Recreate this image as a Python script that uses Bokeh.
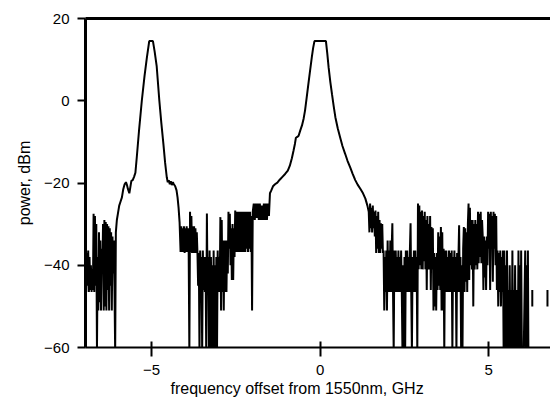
import numpy as np
from bokeh.plotting import figure
from bokeh.models import Range1d, LinearAxis, FixedTicker, Title, ColumnDataSource
from bokeh.embed import file_html
from bokeh.resources import INLINE

NAN = float("nan")

# ---- data: frequency offset (GHz) / power (dBm) ----
noise_left_f = [-7.00, -6.98, -6.96, -6.94, -6.92, -6.90, -6.88, -6.86, -6.84, -6.82,
                -6.80, -6.78, -6.76, -6.74, -6.72, -6.70, -6.68, -6.66, -6.64, -6.62,
                -6.60, -6.58, -6.56, -6.54, -6.52, -6.50, -6.48, -6.46, -6.44, -6.42,
                -6.40, -6.38, -6.36, -6.34, -6.32, -6.30, -6.28, -6.26, -6.24, -6.22,
                -6.20, -6.18, -6.16, -6.14, -6.12, -6.10, -6.08, -6.06]
noise_left_p = [-40, -46.5, -38, -46.5, -37, -45, -36.4, -46.5, -38, -46,
                -40, -46.5, -41, -46, -27.5, -46.5, -28, -45, -30, -61,
                -38, -51, -32, -49, -34, -51, -36, -42, -30, -51,
                -29, -50, -29.5, -51, -30, -46, -30.5, -51, -31, -45,
                -32, -51, -33, -42, -34, -46, -61, -32]

peak_a_f = [-6.03, -6.00, -5.96, -5.92, -5.88, -5.84, -5.80, -5.76, -5.73, -5.70,
            -5.66, -5.63, -5.60, -5.56, -5.52, -5.48, -5.44, -5.37, -5.29, -5.21,
            -5.14, -5.07, -4.96, -4.91, -4.85, -4.77, -4.71, -4.65, -4.60, -4.55,
            -4.52, -4.49, -4.46, -4.43, -4.40, -4.37, -4.34, -4.30, -4.26, -4.23,
            -4.20, -4.17]
peak_a_p = [-29, -27.5, -25.5, -24.5, -23.5, -21.5, -20.3, -19.8, -20.5, -21.5,
            -22.5, -21, -19.5, -19.3, -18.5, -17.5, -13.8, -7, 0, 6,
            10.5, 14.5, 14.5, 12, 8.5, 0, -5.5, -10.5, -15, -18.6,
            -19.8, -19.3, -20.3, -19.6, -20.5, -19.8, -20.3, -20.8, -21.8, -23.5,
            -26, -29.5]

noise_mid_f = [-4.14, -4.12, -4.10, -4.08, -4.06, -4.04, -4.02, -4.00, -3.98, -3.96,
               -3.94, -3.92, -3.90, -3.88, -3.86, -3.84, -3.82, -3.80, -3.78, -3.76,
               -3.74, -3.72, -3.70, -3.68, -3.66, -3.64, -3.62, -3.60, -3.58, -3.56,
               -3.54, -3.52, -3.50, -3.48, -3.46, -3.44, -3.42, -3.40, -3.38, -3.36,
               -3.34, -3.32, -3.30, -3.28, -3.26, -3.24, -3.22, -3.20, -3.18, -3.16,
               -3.14, -3.12, -3.10, -3.08, -3.06, -3.04, -3.02, -3.00, -2.98, -2.96,
               -2.94, -2.92, -2.90, -2.88, -2.86, -2.84, -2.82, -2.80, -2.78, -2.76,
               -2.74, -2.72, -2.70, -2.68, -2.66, -2.64, -2.62, -2.60, -2.58, -2.56,
               -2.54, -2.52, -2.50, -2.48, -2.46, -2.44, -2.42, -2.40, -2.38, -2.36,
               -2.34, -2.32, -2.30, -2.28, -2.26, -2.24, -2.22, -2.20, -2.18, -2.16,
               -2.14, -2.12, -2.10, -2.08, -2.06, -2.04, -2.02, -2.00, -1.97, -1.94,
               -1.91, -1.88, -1.85, -1.82, -1.79, -1.76, -1.73, -1.70, -1.67, -1.64,
               -1.61, -1.58, -1.55, -1.52]
noise_mid_p = [-36.8, -30.5, -36.8, -31, -36.8, -30.5, -37, -31, -36.8, -30.5,
               -36.8, -31, -37, -61, -27, -36.8, -28, -37, -30.5, -37,
               -30.5, -37, -31, -37, -32, -37, -45, -37, -61, -36.4,
               -46, -38, -61, -36.4, -46, -38, -46.5, -38, -61, -27.4,
               -46, -38, -61, -36.4, -61, -38, -61, -40, -61, -36.4,
               -61, -40, -61, -38, -61, -36.4, -46.5, -38, -46.5, -28.3,
               -51, -29, -46.5, -34, -51, -34, -46.5, -34, -46.5, -34,
               -42, -27, -36, -27.5, -40, -31, -43.6, -30, -43.6, -31,
               -38, -26.7, -36.8, -27, -36.8, -27, -36.8, -27, -36.8, -27,
               -36.8, -27, -36.8, -27, -36.8, -27, -36.8, -27, -36, -27,
               -36.8, -27, -36, -27, -36.8, -28, -51, -27, -25, -29,
               -25, -28.5, -25, -29, -25, -29, -25.5, -29, -25, -29,
               -25, -29, -25, -28]

peak_b_f = [-1.49, -1.45, -1.40, -1.34, -1.27, -1.20, -1.12, -1.04, -0.96, -0.90,
            -0.84, -0.79, -0.75, -0.72, -0.68, -0.64, -0.59, -0.54, -0.49, -0.45,
            -0.40, -0.35, -0.30, -0.25, -0.21, -0.17, 0.17, 0.21, 0.25, 0.30,
            0.35, 0.40, 0.45, 0.52, 0.59, 0.66, 0.74, 0.81, 0.89, 0.96,
            1.04, 1.11, 1.19, 1.27, 1.34, 1.40]
peak_b_p = [-22.5, -21.8, -20.8, -20.3, -19.9, -19.2, -18.5, -17.8, -17, -15.8,
            -14, -12.1, -10.5, -9, -8.8, -8.5, -7.2, -6, -4.3, -2.4,
            0.8, 4.1, 7.3, 10.5, 12.8, 14.5, 14.5, 11.5, 8.1, 4.6,
            1.6, -1.3, -4, -6.7, -8.9, -11, -12.9, -14.6, -16.2, -17.7,
            -19.3, -20.4, -21.4, -22.5, -23.8, -25.5]

noise_right_f = [1.44, 1.46, 1.48, 1.50, 1.52, 1.54, 1.56, 1.58, 1.60, 1.62,
                 1.64, 1.66, 1.68, 1.70, 1.72, 1.74, 1.76, 1.78, 1.80, 1.82,
                 1.84, 1.86, 1.88, 1.90, 1.92, 1.94, 1.96, 1.98, 2.00, 2.02,
                 2.04, 2.06, 2.08, 2.10, 2.12, 2.14, 2.16, 2.18, 2.20, 2.22,
                 2.24, 2.26, 2.28, 2.30, 2.32, 2.34, 2.36, 2.38, 2.40, 2.42,
                 2.44, 2.46, 2.48, 2.50, 2.52, 2.54, 2.56, 2.58, 2.60, 2.62,
                 2.64, 2.66, 2.68, 2.70, 2.72, 2.74, 2.76, 2.78, 2.80, 2.82,
                 2.84, 2.86, 2.88, 2.90, 2.92, 2.94, 2.96, 2.98, 3.00, 3.02,
                 3.04, 3.06, 3.08, 3.10, 3.12, 3.14, 3.16, 3.18, 3.20, 3.22,
                 3.24, 3.26, 3.28, 3.30, 3.32, 3.34, 3.36, 3.38, 3.40, 3.42,
                 3.44, 3.46, 3.48, 3.50, 3.52, 3.54, 3.56, 3.58, 3.60, 3.62,
                 3.64, 3.66, 3.68, 3.70, 3.72, 3.74, 3.76, 3.78, 3.80, 3.82,
                 3.84, 3.86, 3.88, 3.90, 3.92, 3.94, 3.96, 3.98, 4.00, 4.02,
                 4.04, 4.06, 4.08, 4.10, 4.12, 4.14, 4.16, 4.18, 4.20, 4.22,
                 4.24, 4.26, 4.28, 4.30, 4.32, 4.34, 4.36, 4.38, 4.40, 4.42,
                 4.44, 4.46, 4.48, 4.50, 4.52, 4.54, 4.56, 4.58, 4.60, 4.62,
                 4.64, 4.66, 4.68, 4.70, 4.72, 4.74, 4.76, 4.78, 4.80, 4.82,
                 4.84, 4.86, 4.88, 4.90, 4.92, 4.94, 4.96, 4.98, 5.00, 5.02,
                 5.04, 5.06, 5.08, 5.10, 5.12, 5.14, 5.16, 5.18, 5.20, 5.22,
                 5.24, 5.26, 5.28, 5.30, 5.32, 5.34, 5.36, 5.38, 5.40, 5.42,
                 5.44, 5.46, 5.48, 5.50, 5.52, 5.54, 5.56, 5.58, 5.60, 5.62,
                 5.64, 5.66, 5.68, 5.70, 5.72, 5.74, 5.76, 5.78, 5.80, 5.82,
                 5.84, 5.86, 5.88, 5.90, 5.92, 5.94, 5.96, 5.98, 6.02, 6.08,
                 6.10, 6.12, 6.14, 6.16, 6.18]
noise_right_p = [-27, -32, -25, -31, -26, -32, -25.5, -31, -27, -33,
                 -26.7, -37, -28, -36, -27, -37, -29, -37, -29.8, -36,
                 -30, -37, -36.4, -51, -38, -46.5, -36.4, -51, -34, -46.5,
                 -36.4, -46.5, -34, -46.5, -36, -29.8, -46.5, -61, -36.4, -46.5,
                 -36.4, -46.5, -38, -46.5, -36.4, -46.5, -38, -46.5, -36.4, -46.5,
                 -61, -40, -61, -38, -61, -36.4, -46.5, -36.4, -46.5, -38,
                 -46.5, -36.4, -29.8, -46.5, -61, -38, -46.5, -36.4, -46.5, -36.4,
                 -46.5, -38, -61, -25, -41, -25.5, -40, -27, -41, -26.7,
                 -41, -28, -39, -27, -41, -29, -46, -28, -41, -30,
                 -41, -28, -46, -30.7, -41, -31, -51, -37, -50, -38,
                 -51, -37, -46, -32, -45, -33, -46, -30.7, -51, -32,
                 -51, -36, -61, -36.4, -46.5, -36.4, -46.5, -38, -46.5, -36.4,
                 -46.5, -37, -46.5, -36.4, -61, -38, -46.5, -36.4, -46.5, -38,
                 -61, -37, -46.5, -38, -30.3, -46.5, -38, -61, -40, -61,
                 -36, -30.7, -46.5, -31, -44, -32, -46.5, -30, -25, -43.6,
                 -26, -40, -29, -41, -29, -50, -30, -41, -29, -40,
                 -30, -41, -27, -39.5, -27.5, -38, -27, -39.5, -29, -33,
                 -46, -33, -43, -34, -46, -33, -40, -27, -36, -27.5,
                 -46, -27, -36, -28, -44, -27, -36, -27.5, -40, -28,
                 -46, -36.4, -50, -37, -46.5, -36.4, -50, -38, -46.5, -36.4,
                 -61, -36.4, -61, -40, -61, -36.4, -61, -46, -61, -40,
                 -61, -46, -61, -36.4, -61, -46, -61, -40, -61, -46,
                 -61, -61, -36.4, -61, -40, -61, -36.4, -61, -70, -36.4,
                 -61, -40, -61, -36.4, -70]

tail_f = [NAN, 6.29, 6.29, NAN, 6.74, 6.74]
tail_p = [NAN, -46, -50, NAN, -46, -50]

x_ticks = [-5, 0, 5]
y_ticks = [-60, -40, -20, 0, 20]
x_title = "frequency offset from 1550nm, GHz"
y_title = "power, dBm"

freq = np.concatenate([noise_left_f, peak_a_f, noise_mid_f, peak_b_f, noise_right_f, tail_f]).astype(float)
power = np.concatenate([noise_left_p, peak_a_p, noise_mid_p, peak_b_p, noise_right_p, tail_p]).astype(float)
src = ColumnDataSource(dict(f=freq, p=power))

FONT = "Liberation Sans"

p = figure(width=550, height=402, output_backend="svg", toolbar_location=None,
           x_range=Range1d(-6.96, 6.83), y_range=Range1d(-60, 20),
           min_border_left=85, min_border_right=0, min_border_top=18, min_border_bottom=55,
           x_axis_type=None, y_axis_type=None)
p.outline_line_color = None
p.grid.visible = False
p.background_fill_color = "white"
p.border_fill_color = "white"

p.line("f", "p", source=src, line_color="black", line_width=2.0)

xa = LinearAxis(ticker=FixedTicker(ticks=x_ticks))
xa.axis_line_width = 2
xa.axis_line_color = "black"
xa.major_tick_in = 6
xa.major_tick_out = 9
xa.major_tick_line_width = 2
xa.minor_tick_line_color = None
xa.major_label_standoff = 8
xa.major_label_text_font = FONT
xa.major_label_text_font_size = "15px"
xa.major_label_text_color = "black"
p.add_layout(xa, "below")

ya = LinearAxis(ticker=FixedTicker(ticks=y_ticks))
ya.axis_line_width = 3
ya.axis_line_color = "black"
ya.major_tick_in = 0
ya.major_tick_out = 8
ya.major_tick_line_width = 2
ya.minor_tick_line_color = None
ya.major_label_standoff = 8
ya.major_label_text_font = FONT
ya.major_label_text_font_size = "15px"
ya.major_label_text_color = "black"
ya.axis_label = y_title
ya.axis_label_text_font = FONT
ya.axis_label_text_font_size = "16px"
ya.axis_label_text_font_style = "normal"
ya.axis_label_text_color = "black"
ya.axis_label_standoff = 8
p.add_layout(ya, "left")

ta = LinearAxis(ticker=FixedTicker(ticks=[]))
ta.axis_line_width = 3
ta.axis_line_color = "black"
ta.major_tick_in = 0
ta.major_tick_out = 0
ta.minor_tick_line_color = None
ta.major_label_standoff = 0
ta.major_label_text_font_size = "0px"
p.add_layout(ta, "above")

xt = Title(text=x_title, align="left", offset=85, standoff=0,
           text_font=FONT, text_font_size="16px", text_font_style="normal",
           text_color="black")
p.add_layout(xt, "below")

open("out.html", "w").write(file_html(p, INLINE))
